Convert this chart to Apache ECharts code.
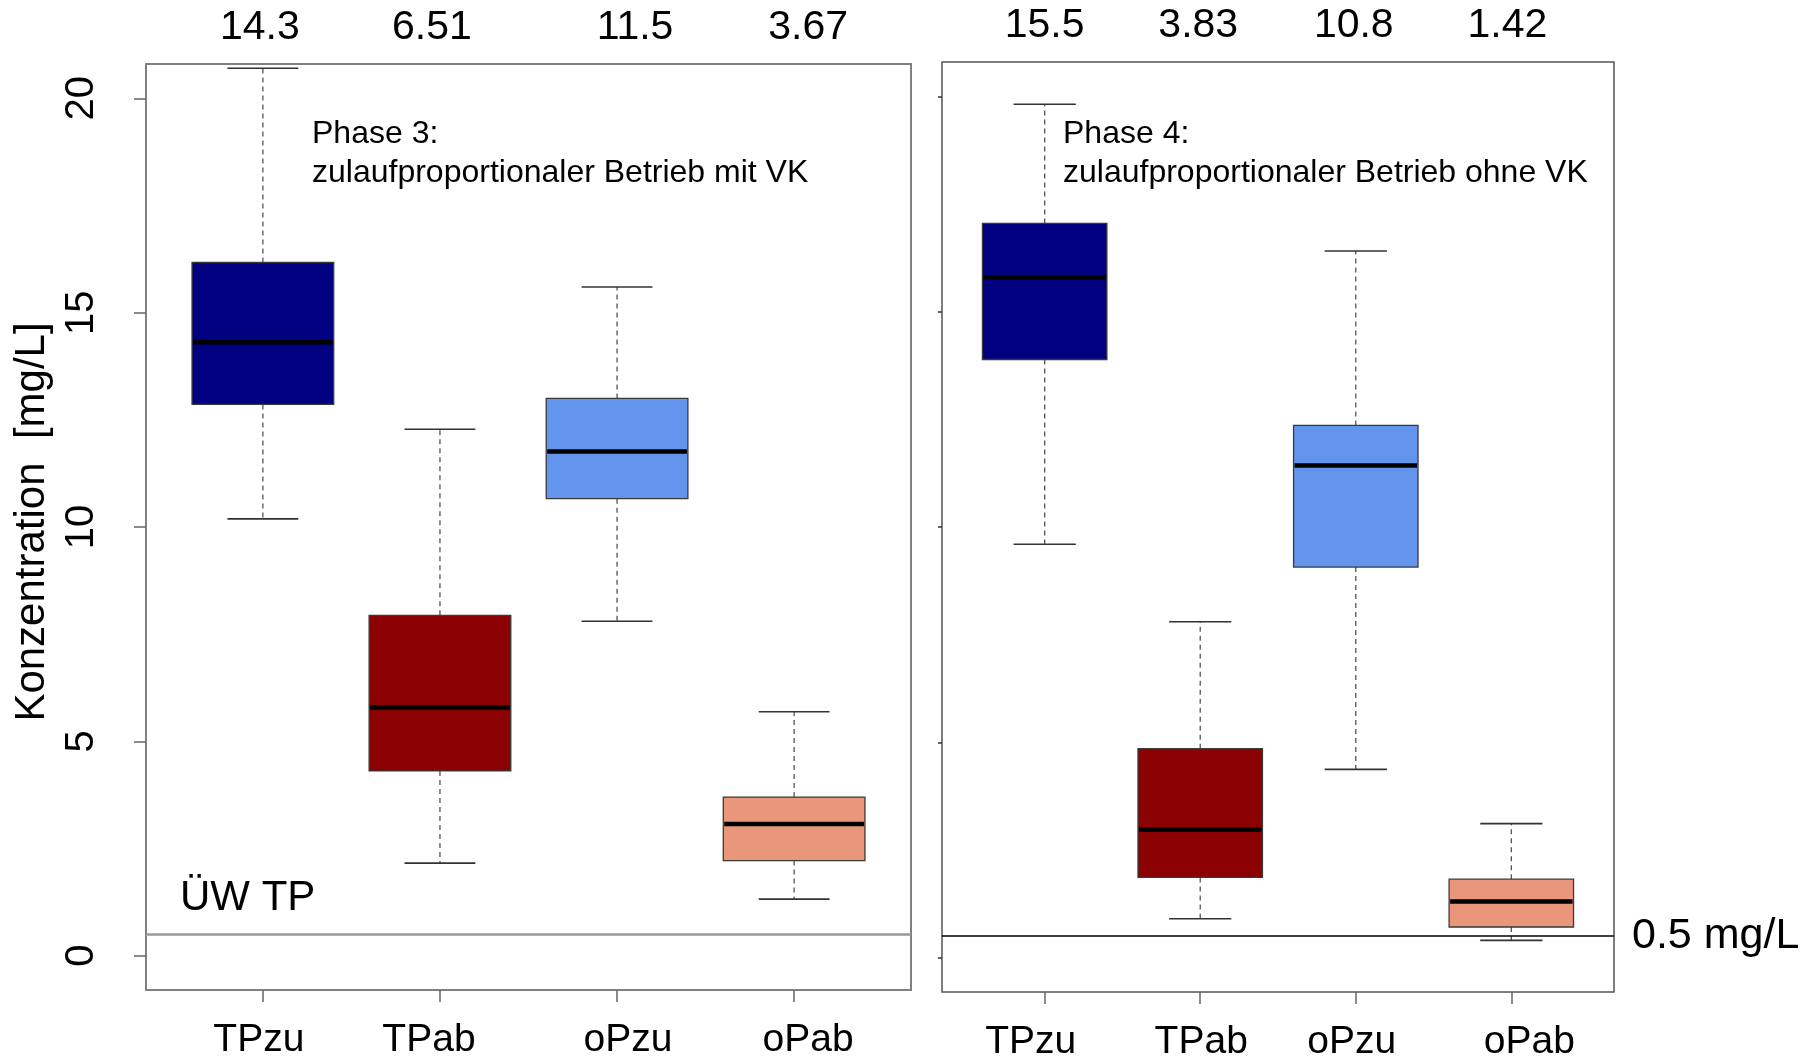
<!DOCTYPE html>
<html><head><meta charset="utf-8">
<script src="https://cdn.jsdelivr.net/npm/echarts@6/dist/echarts.min.js"></script>
<style>html,body{margin:0;padding:0;background:#fff}#c{width:1802px;height:1062px}</style>
</head><body><div id="c"></div>
<script>
// ---- data ----
const CATEGORIES = ['TPzu', 'TPab', 'oPzu', 'oPab'];
// [low whisker, Q1, median, Q3, high whisker]
const PHASE3_TPzu = [10.19, 12.86, 14.31, 16.17, 20.70];
const PHASE3_TPab = [2.16, 4.31, 5.79, 7.94, 12.28];
const PHASE3_oPzu = [7.80, 10.66, 11.76, 13.00, 15.60];
const PHASE3_oPab = [1.32, 2.22, 3.07, 3.70, 5.69];
const PHASE4_TPzu = [9.60, 13.89, 15.80, 17.05, 19.82];
const PHASE4_TPab = [0.90, 1.86, 2.97, 4.85, 7.80];
const PHASE4_oPzu = [4.37, 9.07, 11.43, 12.36, 16.41];
const PHASE4_oPab = [0.40, 0.71, 1.30, 1.82, 3.11];
const MEANS_PHASE3 = ['14.3', '6.51', '11.5', '3.67'];
const MEANS_PHASE4 = ['15.5', '3.83', '10.8', '1.42'];
const Y_TICKS = [0, 5, 10, 15, 20];
const THRESHOLD = 0.5;
const PHASE3_TEXT = 'Phase 3:\nzulaufproportionaler Betrieb mit VK';
const PHASE4_TEXT = 'Phase 4:\nzulaufproportionaler Betrieb ohne VK';
const PANEL_LABEL = 'ÜW TP';
const THRESHOLD_LABEL = '0.5 mg/L';
const Y_NAME = 'Konzentration  [mg/L]';

// ---- styles ----
const FONT = '"Liberation Sans", Arial, sans-serif';
const BOX_COLORS = ['#000080', '#8B0000', '#6495ED', '#E9967A'];
const X_MIN = 0.34, X_MAX = 4.66, Y_MIN = -0.8, Y_MAX = 20.8;

const phase3 = [PHASE3_TPzu, PHASE3_TPab, PHASE3_oPzu, PHASE3_oPab].map((v, i) => [i + 1, ...v]);
const phase4 = [PHASE4_TPzu, PHASE4_TPab, PHASE4_oPzu, PHASE4_oPab].map((v, i) => [i + 1, ...v]);

function renderBox(params, api) {
  const x = api.value(0);
  const idx = Math.round(x) - 1;
  const pLow = api.coord([x, api.value(1)]);
  const pQ1 = api.coord([x, api.value(2)]);
  const pMed = api.coord([x, api.value(3)]);
  const pQ3 = api.coord([x, api.value(4)]);
  const pHigh = api.coord([x, api.value(5)]);
  const hw = api.size([0.8, 0])[0] / 2;
  const cw = api.size([0.4, 0])[0] / 2;
  const cx = pMed[0];
  const dash = {stroke: '#555', lineWidth: 1.3, lineDash: [5, 4]};
  const cap = {stroke: '#333', lineWidth: 1.6};
  return {
    type: 'group',
    children: [
      {type: 'line', shape: {x1: cx, y1: pQ3[1], x2: cx, y2: pHigh[1]}, style: dash},
      {type: 'line', shape: {x1: cx, y1: pQ1[1], x2: cx, y2: pLow[1]}, style: dash},
      {type: 'line', shape: {x1: cx - cw, y1: pHigh[1], x2: cx + cw, y2: pHigh[1]}, style: cap},
      {type: 'line', shape: {x1: cx - cw, y1: pLow[1], x2: cx + cw, y2: pLow[1]}, style: cap},
      {type: 'rect', shape: {x: cx - hw, y: pQ3[1], width: 2 * hw, height: pQ1[1] - pQ3[1]},
        style: {fill: BOX_COLORS[idx], stroke: '#3a3a3a', lineWidth: 1.3}},
      {type: 'line', shape: {x1: cx - hw + 1, y1: pMed[1], x2: cx + hw - 1, y2: pMed[1]},
        style: {stroke: '#000', lineWidth: 4.5}}
    ]
  };
}

function pad(d) { return d >= 0 ? [0, 0, 0, 2 * d] : [0, -2 * d, 0, 0]; }
function richSet(offsets, size) {
  const r = {};
  offsets.forEach((d, i) => { r['s' + i] = {padding: pad(d), fontSize: size, fontFamily: FONT, color: '#000'}; });
  return r;
}

function bottomAxis(grid, offsets) {
  return {
    type: 'value', gridIndex: grid, position: 'bottom', min: X_MIN, max: X_MAX,
    splitLine: {show: false}, axisLine: {show: false, onZero: false},
    axisTick: {show: true, inside: false, length: 12, customValues: [1, 2, 3, 4], lineStyle: {color: '#666', width: 1.5}},
    axisLabel: {customValues: [1, 2, 3, 4], margin: 31, fontSize: 39, fontFamily: FONT, color: '#000',
      formatter: v => '{s' + (Math.round(v) - 1) + '|' + CATEGORIES[Math.round(v) - 1] + '}',
      rich: richSet(offsets, 39)}
  };
}
function topAxis(grid, means, offsets) {
  return {
    type: 'value', gridIndex: grid, position: 'top', min: X_MIN, max: X_MAX,
    splitLine: {show: false}, axisLine: {show: false, onZero: false}, axisTick: {show: false},
    axisLabel: {customValues: [1, 2, 3, 4], margin: 16, fontSize: 41, fontFamily: FONT, color: '#000',
      formatter: v => '{s' + (Math.round(v) - 1) + '|' + means[Math.round(v) - 1] + '}',
      rich: richSet(offsets, 41)}
  };
}

const chart = echarts.init(document.getElementById('c'), null, {renderer: 'canvas'});
chart.setOption({
  animation: false,
  backgroundColor: '#fff',
  textStyle: {fontFamily: FONT},
  grid: [
    {left: 146, top: 64, width: 765, height: 926, show: true, borderColor: '#808080', borderWidth: 2},
    {left: 942, top: 62, width: 672, height: 933, show: true, borderColor: '#555', borderWidth: 1.5}
  ],
  xAxis: [
    bottomAxis(0, [-4, -11, 11, 14]),
    topAxis(0, MEANS_PHASE3, [-3, -8, 18, 14]),
    bottomAxis(1, [-14, 1, -4, 18]),
    topAxis(1, MEANS_PHASE4, [0, -2, -2, -4])
  ],
  yAxis: [
    {type: 'value', gridIndex: 0, min: Y_MIN, max: Y_MAX, splitLine: {show: false}, axisLine: {show: false, onZero: false},
      axisTick: {show: true, length: 12, customValues: Y_TICKS, lineStyle: {color: '#666', width: 1.5}},
      axisLabel: {customValues: Y_TICKS, rotate: 90, margin: 44, fontSize: 40, fontFamily: FONT, color: '#000'},
      name: Y_NAME, nameLocation: 'middle', nameGap: 93,
      nameTextStyle: {fontSize: 42, fontFamily: FONT, color: '#000', padding: [0, 0, 0, 10]}},
    {type: 'value', gridIndex: 1, min: Y_MIN, max: Y_MAX, splitLine: {show: false}, axisLine: {show: false, onZero: false},
      axisTick: {show: true, length: 4, customValues: Y_TICKS, lineStyle: {color: '#333', width: 1.5}},
      axisLabel: {show: false}}
  ],
  series: [
    {type: 'custom', name: 'Phase 3', xAxisIndex: 0, yAxisIndex: 0, renderItem: renderBox,
      encode: {x: 0, y: [1, 2, 3, 4, 5]}, data: phase3, clip: false, z: 3},
    {type: 'custom', name: 'Phase 4', xAxisIndex: 2, yAxisIndex: 1, renderItem: renderBox,
      encode: {x: 0, y: [1, 2, 3, 4, 5]}, data: phase4, clip: false, z: 3},
    {type: 'line', xAxisIndex: 0, yAxisIndex: 0, data: [], z: 2,
      markLine: {silent: true, symbol: 'none', animation: false,
        lineStyle: {color: '#999', width: 2.5, type: 'solid'}, label: {show: false},
        data: [{yAxis: THRESHOLD}]}},
    {type: 'line', xAxisIndex: 2, yAxisIndex: 1, data: [], z: 2,
      markLine: {silent: true, symbol: 'none', animation: false,
        lineStyle: {color: '#000', width: 1.5, type: 'solid'},
        label: {show: true, position: 'end', distance: 18, formatter: THRESHOLD_LABEL,
          fontSize: 43, fontFamily: FONT, color: '#000', padding: [0, 0, 9, 0]},
        data: [{yAxis: THRESHOLD}]}}
  ],
  graphic: [
    {type: 'text', left: 312, top: 115, style: {text: PHASE3_TEXT, font: '32px ' + FONT, lineHeight: 39, fill: '#000'}},
    {type: 'text', left: 1063, top: 115, style: {text: PHASE4_TEXT, font: '32px ' + FONT, lineHeight: 39, fill: '#000'}},
    {type: 'text', left: 180, top: 877, style: {text: PANEL_LABEL, font: '42px ' + FONT, fill: '#000'}}
  ]
});
</script></body></html>
